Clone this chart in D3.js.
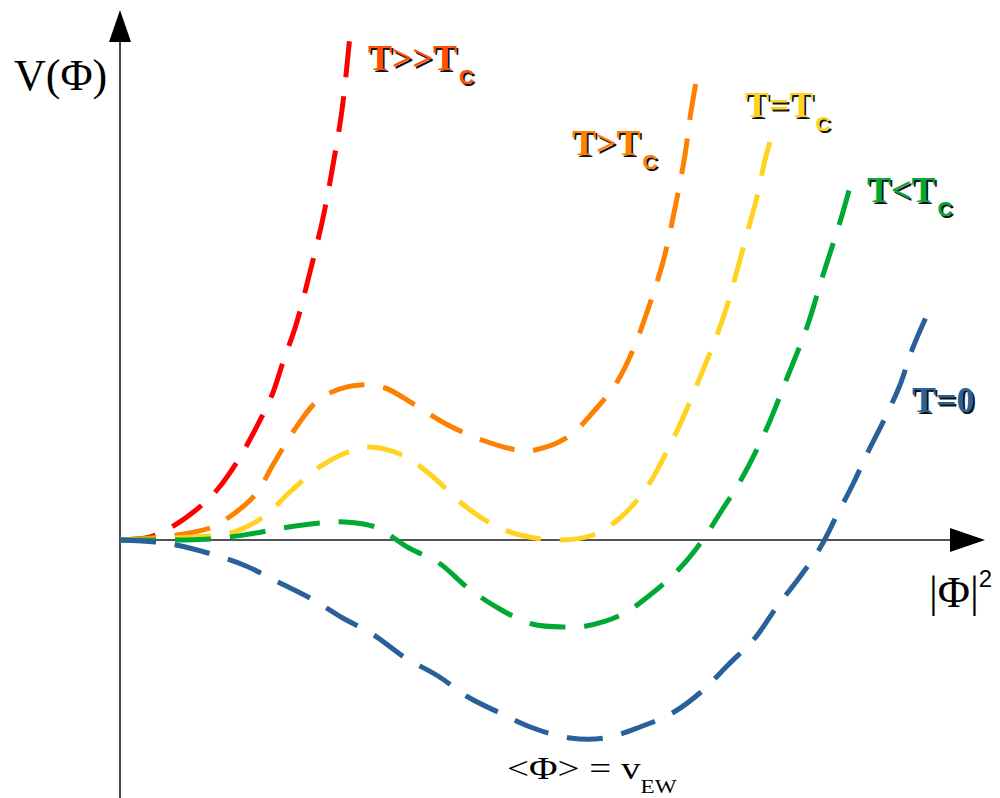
<!DOCTYPE html>
<html>
<head>
<meta charset="utf-8">
<script src="https://cdn.jsdelivr.net/npm/d3@7"></script>
<style>
  html, body { margin: 0; padding: 0; background: #fff; }
  svg { display: block; }
</style>
</head>
<body>
<svg></svg>
<script>
let width = 1000,
    height = 798;

// curve values: [|phi|^2, V]
let hotCurve = [[0,0],[0.3,0.03],[0.55,0.15],[0.82,0.35],[0.97,0.5],[1.17,0.78],[1.35,1.1],
  [1.52,1.45],[1.63,1.78],[1.76,2.15],[1.9,2.68],[2.03,3.22],[2.13,3.75],[2.22,4.3],[2.3,5.05]]
let aboveCurve = [[0,0],[0.3,0.02],[0.57,0.05],[0.9,0.12],[1.08,0.22],[1.35,0.45],[1.54,0.77],
  [1.73,1.08],[1.95,1.37],[2.12,1.48],[2.4,1.55],[2.65,1.52],[2.95,1.35],[3.28,1.15],[3.62,1.0],
  [3.97,0.9],[4.15,0.9],[4.48,1.03],[4.75,1.3],[4.97,1.58],[5.13,1.9],[5.26,2.25],[5.43,2.78],
  [5.55,3.32],[5.65,3.85],[5.7,4.22],[5.76,4.58]]
let criticalCurve = [[0,0],[0.55,0.02],[1.1,0.07],[1.42,0.22],[1.7,0.48],[1.98,0.72],[2.28,0.88],
  [2.48,0.93],[2.82,0.85],[3.12,0.64],[3.4,0.38],[3.7,0.17],[4.0,0.05],[4.4,0.0],[4.73,0.05],
  [5.0,0.22],[5.27,0.53],[5.45,0.85],[5.62,1.2],[5.83,1.7],[5.97,2.05],[6.08,2.37],[6.18,2.73],
  [6.28,3.1],[6.37,3.43],[6.45,3.8],[6.5,3.98]]
let belowCurve = [[0,0],[0.55,0],[0.92,0.01],[1.3,0.06],[1.63,0.12],[2.0,0.17],[2.25,0.18],
  [2.55,0.13],[2.89,-0.08],[3.19,-0.23],[3.48,-0.48],[3.78,-0.68],[4.12,-0.84],[4.47,-0.87],
  [4.66,-0.86],[5.01,-0.75],[5.3,-0.55],[5.6,-0.28],[5.82,-0.01],[6.02,0.3],[6.22,0.62],
  [6.46,1.1],[6.67,1.62],[6.87,2.13],[7.03,2.65],[7.2,3.18],[7.3,3.53]]
let zeroCurve = [[0,0],[0.35,-0.02],[0.56,-0.05],[0.88,-0.13],[1.26,-0.26],[1.58,-0.42],[1.9,-0.58],
  [2.21,-0.77],[2.54,-0.95],[2.84,-1.17],[3.18,-1.36],[3.48,-1.57],[3.8,-1.73],[4.13,-1.88],
  [4.5,-1.98],[4.85,-1.98],[5.2,-1.87],[5.54,-1.72],[5.81,-1.52],[6.09,-1.24],[6.35,-0.98],
  [6.56,-0.68],[6.79,-0.38],[7.0,-0.08],[7.17,0.25],[7.33,0.56],[7.48,0.88],[7.65,1.22],
  [7.8,1.55],[7.92,1.9],[8.07,2.25]]

let curveNames = ['T>>T', 'T>T', 'T=T', 'T<T', 'T=0']
let curveSubs = ['C', 'C', 'C', 'C', '']
let curveColors = ['#ff0000', '#ff8000', '#ffd320', '#00a933', '#2a6099']
let labelColors = ['#ff4f00', '#ff8000', '#ffd320', '#00a933', '#2a6099']
let labelAt = [[2.48,4.7], [4.52,3.85], [6.25,4.23], [7.47,3.38], [7.92,1.28]]
let curves = [hotCurve, aboveCurve, criticalCurve, belowCurve, zeroCurve]

let svg = d3.select('svg')
            .attr('width', width)
            .attr('height', height)

//scales
let xScale = d3.scaleLinear()
      .domain([0, 8.8])
      .range([120, 1000])
let yScale = d3.scaleLinear()
      .domain([-2.58, 5.4])
      .range([height, 0])

// axes with arrow heads
let ax = svg.append('g')
ax.append('line')
  .attr('x1', xScale(0)).attr('x2', xScale(8.32))
  .attr('y1', yScale(0)).attr('y2', yScale(0))
  .attr('stroke', '#1a1a1a').attr('stroke-width', 1.6)
ax.append('line')
  .attr('x1', xScale(0)).attr('x2', xScale(0))
  .attr('y1', yScale(-2.58)).attr('y2', yScale(4.98))
  .attr('stroke', '#1a1a1a').attr('stroke-width', 1.6)
ax.append('path')
  .attr('d', `M${xScale(8.3)},${yScale(0)-12} L${xScale(8.65)},${yScale(0)} L${xScale(8.3)},${yScale(0)+12} Z`)
  .attr('fill', '#000')
ax.append('path')
  .attr('d', `M${xScale(0)-11},${yScale(4.98)} L${xScale(0)},${yScale(5.3)} L${xScale(0)+11},${yScale(4.98)} Z`)
  .attr('fill', '#000')

// dashed curves
let line = d3.line()
    .x(d => xScale(d[0]))
    .y(d => yScale(d[1]))
    .curve(d3.curveCatmullRom.alpha(0.5))

svg.append('g').selectAll('path')
   .data(curves)
   .enter()
   .append('path')
   .attr('d', d => line(d))
   .attr('fill', 'none')
   .attr('stroke', (d, i) => curveColors[i])
   .attr('stroke-width', 5)
   .attr('stroke-dasharray', '36,19')

// curve labels, black shadow under coloured text
let labels = svg.append('g')
  .style('font-family', '"Liberation Serif", serif')
  .style('font-weight', 'bold')
  .style('font-size', '36px')

;[['#111', 1.8], [null, 0]].forEach(([shade, off]) => {
  let t = labels.selectAll(null)
      .data(curveNames)
      .enter()
      .append('text')
      .attr('x', (d, i) => xScale(labelAt[i][0]) + off)
      .attr('y', (d, i) => yScale(labelAt[i][1]) + off)
      .attr('fill', (d, i) => shade || labelColors[i])
  t.append('tspan').text(d => d)
  t.append('tspan')
   .attr('dy', 14)
   .attr('dx', 2)
   .style('font-family', '"Liberation Sans", sans-serif')
   .style('font-size', '21px')
   .text((d, i) => curveSubs[i])
})

// axis titles
let serif = '"Liberation Serif", serif'
svg.append('text')
   .attr('x', 14).attr('y', 90)
   .style('font-family', serif).style('font-size', '44px')
   .text('V(Φ)')

let xt = svg.append('text')
   .attr('x', 929).attr('y', 607)
   .style('font-family', serif).style('font-size', '44px')
xt.append('tspan').text('|Φ|')
xt.append('tspan')
  .attr('dy', -20)
  .style('font-family', '"Liberation Sans", sans-serif')
  .style('font-size', '24px')
  .text('2')

// minimum label, a little wider than its height as in the picture
let vt = svg.append('text')
   .attr('transform', 'translate(507,779) scale(1.22,1)')
   .style('font-family', serif).style('font-size', '32px')
vt.append('tspan').text('<Φ> = v')
vt.append('tspan')
  .attr('dy', 14)
  .style('font-size', '19px')
  .text('EW')
</script>
</body>
</html>
